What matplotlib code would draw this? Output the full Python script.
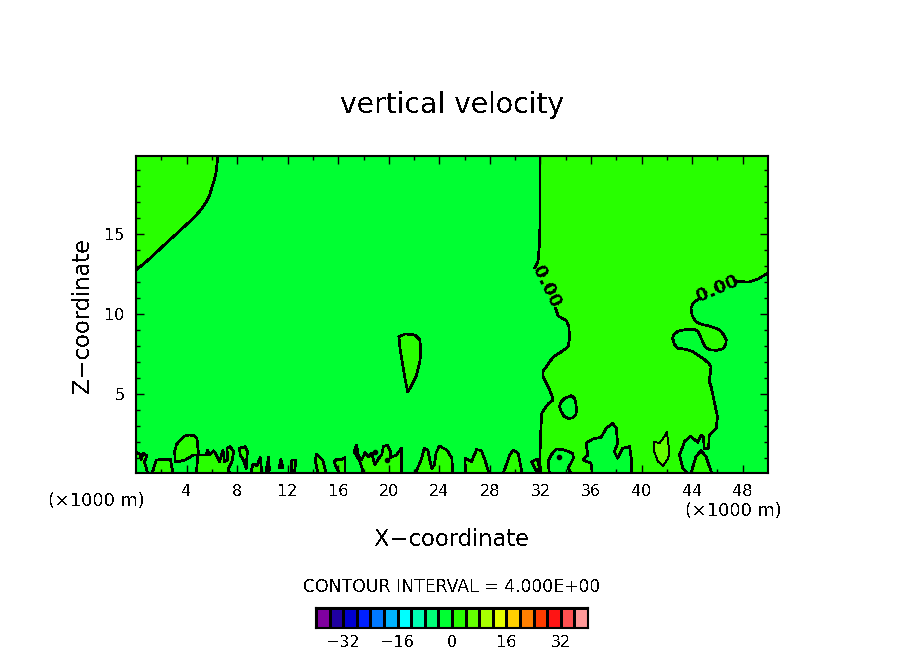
import numpy as np
import matplotlib
matplotlib.use("Agg")
import matplotlib.pyplot as plt
from matplotlib.colors import ListedColormap

plt.rcParams["font.family"] = ["DejaVu Sans"]
plt.rcParams["text.antialiased"] = False

# contour outlines, (x in km, z in km)
corner_top = [(0, 12.75), (0.7, 13.2), (1.4, 13.7), (2.2, 14.3), (3.1, 14.95), (3.85, 15.5), (4.55, 16.0),
              (5.1, 16.5), (5.5, 16.95), (5.8, 17.4), (6.0, 17.9), (6.2, 18.4), (6.33, 18.85), (6.5, 20)]
left_upper = [(31.95, 20), (31.95, 15.3), (31.9, 14.2), (31.8, 13.26), (31.55, 12.9)]
left_lower = [(33.2, 10.35), (33.4, 9.87), (34.05, 9.58), (34.25, 9.2), (34.3, 8.5),
              (34.2, 7.95), (33.6, 7.6), (33.0, 7.3), (32.6, 6.85), (32.2, 6.4), (32.2, 6.07), (32.6, 5.44),
              (32.85, 5.0), (33.0, 4.6), (32.6, 4.36), (32.1, 3.77), (32.0, 2.3), (31.95, 0.85), (32.0, 0)]
right_upper = [(50, 12.6), (49.85, 12.5), (49.2, 12.18), (48.5, 12.0), (47.6, 12.03)]
right_lower = [(44.6, 10.98), (44.1, 10.7), (43.9, 10.36), (44.0, 9.9), (44.3, 9.5), (44.8, 9.33), (45.35, 9.25),
               (45.8, 9.12), (46.15, 9.0), (46.5, 8.7), (46.7, 8.37), (46.65, 8.05), (46.4, 7.8), (45.95, 7.72),
               (45.5, 7.74), (45.15, 7.85), (44.95, 8.05), (44.7, 8.5), (44.45, 8.9), (44.2, 9.03), (43.9, 9.04),
               (43.3, 9.0), (42.85, 8.9), (42.55, 8.72), (42.45, 8.48), (42.6, 8.1), (42.85, 7.85), (43.5, 7.78),
               (44.05, 7.64), (44.5, 7.4), (44.85, 7.22), (45.25, 6.95), (45.5, 6.7), (45.35, 5.76), (45.5, 5.44),
               (45.75, 4.5), (46.0, 3.56), (45.9, 2.83), (45.35, 2.41), (45.3, 1.58), (44.95, 1.58), (44.9, 2.3),
               (44.7, 2.41), (44.45, 1.95), (43.85, 2.35), (43.4, 2.0), (43.0, 1.16),
               (43.25, 0.33), (43.65, 0)]

# negative pockets inside the big positive area
hole_34 = [(33.5, 4.19), (33.65, 4.5), (33.9, 4.7), (34.45, 4.88), (34.7, 4.7), (34.8, 4.4), (34.85, 4.0), (34.8, 3.67),
           (34.5, 3.47), (34.2, 3.46), (33.85, 3.6), (33.65, 3.87), (33.5, 4.19)]
hole_33 = [(32.7, 0), (32.6, 0.74), (32.85, 1.16), (33.25, 1.54), (33.9, 1.47),
           (34.55, 1.27), (34.6, 0.95), (34.2, 0.33), (34.45, 0)]
hole_37 = [(36.1, 0), (36.0, 0.65), (35.35, 0.85), (35.75, 1.16), (35.6, 1.9),
           (36.15, 2.16), (36.8, 2.27), (37.2, 2.83), (37.7, 3.15), (38.0, 2.83),
           (38.1, 1.9), (37.85, 1.37), (38.1, 0.95), (38.5, 1.58), (39.05, 1.68),
           (39.2, 0.85), (39.2, 0)]

# positive pockets in the zero band
lobe_0 = [(0, 1.37), (0.35, 1.16), (0.4, 0.85), (0.56, 1.27), (0.87, 1.1), (0.66, 0.74), (0.93, 0)]
lobe_2 = [(1.27, 0), (1.61, 0.85), (2.72, 0.89), (2.93, 0)]
lobe_4 = [(3.1, 0.74), (3.06, 1.37), (3.2, 1.8), (3.5, 2.1), (3.8, 2.33), (4.16, 2.41), (4.6, 2.38), (4.82, 2.2), (4.95, 1.16),
          (4.56, 1.16), (3.9, 0.85), (3.37, 0.74), (3.1, 0.74)]
lobe_6 = [(4.77, 0), (4.9, 1.16), (5.56, 1.16), (5.66, 1.47), (5.82, 1.16), (6.14, 1.43),
          (6.35, 1.16), (6.61, 0.74), (6.88, 1.47), (7.0, 0.74), (7.25, 0.85), (7.2, 1.58),
          (7.46, 1.68), (7.72, 1.37), (7.59, 0.74), (7.27, 0.26), (7.46, 0)]
lobe_8 = [(8.19, 1.58), (8.64, 1.68), (8.82, 1.37), (8.77, 0.96), (8.72, 0.32), (8.5, 0.85),
          (8.24, 1.16), (8.19, 1.58)]
lobe_9 = [(9.09, 0), (9.25, 0.6), (9.56, 0.49), (9.83, 1.0), (9.96, 0)]
lobe_10 = [(10.3, 0.2), (10.48, 1.0), (10.56, 0.2), (10.3, 0.2)]
lobe_11 = [(11.33, 0.39), (11.46, 0.89), (11.62, 0.39), (11.33, 0.39)]
lobe_12 = [(12.28, 0), (12.33, 0.85), (12.64, 0.85), (12.54, 0)]
lobe_14 = [(14.4, 0), (14.17, 0.85), (14.3, 1.22), (14.77, 0.85), (15.04, 0)]
lobe_16 = [(16.1, 0), (15.83, 0.43), (15.67, 0.74), (15.88, 0.89), (16.28, 0.89), (16.54, 1.0), (16.54, 0)]
lobe_19 = [(18.0, 0), (17.72, 0.74), (17.25, 1.37), (17.46, 1.79), (17.57, 1.16), (17.85, 0.85),
           (18.12, 1.3), (18.38, 1.05), (18.65, 1.26), (18.9, 0.53), (19.18, 0.94), (19.44, 1.16),
           (19.57, 1.68), (19.88, 1.79), (20.15, 1.37), (20.1, 1.0), (20.6, 1.16), (21.0, 1.58), (21.0, 0)]
lobe_24 = [(22.1, 0), (22.6, 0.94), (22.8, 1.58), (23.1, 1.47), (23.2, 1.0), (23.4, 0.3),
           (23.6, 0.55), (23.75, 1.3), (24.0, 1.72), (24.6, 1.47), (25.0, 0.94), (25.04, 0)]
lobe_27 = [(26.07, 0), (26.02, 0.97), (26.55, 0.74), (26.94, 1.5), (27.34, 1.43), (27.6, 0.85), (27.94, 0)]
lobe_30 = [(29.05, 0), (29.57, 1.16), (29.84, 1.47), (30.23, 1.27), (30.55, 0)]
lobe_31 = [(31.75, 0), (31.3, 0.75), (31.75, 0.9), (31.9, 0.4), (31.75, 0)]
lobe_45 = [(43.9, 0), (44.3, 1.05), (44.7, 1.43), (45.1, 1.05), (45.55, 0)]
lobe_22 = [(20.8, 8.56), (20.9, 7.74), (21.15, 6.6), (21.3, 5.86), (21.5, 5.11), (21.83, 5.55), (22.2, 6.18),
           (22.46, 7.0), (22.53, 7.74), (22.46, 8.37), (22.07, 8.68), (21.3, 8.75), (20.8, 8.56)]
small_blobs_x = [18.9, 19.88, 33.5]
small_blobs_z = [1.37, 0.85, 1.03]

# the 4 to 8 patch, has the thin outline
patch_42 = [(41.0, 2.0), (41.4, 1.89), (41.7, 2.2), (42.0, 2.58), (42.2, 1.37), (42.1, 0.95),
            (41.7, 0.49), (41.3, 0.74), (41.0, 1.37), (41.0, 2.0)]

bar_colors = ["#8000a0", "#2000a0", "#0000d0", "#0020ff", "#0078ff", "#00b4ff", "#00ffff",
              "#00ffb4", "#00ff78", "#00ff32", "#28ff00", "#64ff00", "#a8ff00", "#e6ff00",
              "#ffd000", "#ff8000", "#ff3c00", "#ff1414", "#ff5050", "#ff9898"]
bar_levels = np.arange(-40, 41, 4)
bar_ticks = [-32, -16, 0, 16, 32]
x_major = [4, 8, 12, 16, 20, 24, 28, 32, 36, 40, 44, 48]
x_minor = [2, 6, 10, 14, 18, 22, 26, 30, 34, 38, 42, 46]
z_major = [5, 10, 15]
z_minor = [1, 2, 3, 4, 6, 7, 8, 9, 11, 12, 13, 14, 16, 17, 18, 19]

ZERO = bar_colors[9]
POS = bar_colors[10]
POS2 = bar_colors[11]


def fill(ax, pts, color):
    xs, zs = zip(*pts)
    ax.fill(xs, zs, facecolor=color, edgecolor="none", antialiased=False, zorder=1)


def line(ax, pts, lw=1.2):
    xs, zs = zip(*pts)
    ax.plot(xs, zs, color="black", lw=lw, antialiased=False, zorder=2)


fig = plt.figure(figsize=(9.04, 6.54), dpi=100)
ax = fig.add_axes([136 / 904, 181 / 654, 632 / 904, 317 / 654])
ax.set_facecolor(ZERO)
ax.set_xlim(0, 50)
ax.set_ylim(0.03, 19.9)

fill(ax, [(0, 20)] + corner_top, POS)
main_area = left_upper + left_lower + right_lower[::-1] + right_upper[::-1] + [(50, 20)]
fill(ax, main_area, POS)
for hole in [hole_34, hole_33, hole_37]:
    fill(ax, hole, ZERO)
lobes = [lobe_0, lobe_2, lobe_4, lobe_6, lobe_8, lobe_9, lobe_10, lobe_11, lobe_12, lobe_14,
         lobe_16, lobe_19, lobe_24, lobe_27, lobe_30, lobe_31, lobe_45, lobe_22]
for lobe in lobes:
    fill(ax, lobe, POS)
fill(ax, patch_42, POS2)

for curve in [corner_top, left_upper, left_lower, right_upper, right_lower, hole_34, hole_33, hole_37] + lobes:
    line(ax, curve)
line(ax, patch_42, lw=0.6)
ax.plot(small_blobs_x, small_blobs_z, "o", color="black", ms=3, zorder=2)

ax.text(32.5, 11.7, "0.00", rotation=-64, ha="center", va="center", fontsize=13, weight="bold", rotation_mode="anchor")
ax.text(46.0, 11.57, "0.00", rotation=23, ha="center", va="center", fontsize=13, weight="bold", rotation_mode="anchor")

ax.set_xticks(x_major)
ax.set_xticks(x_minor, minor=True)
ax.set_yticks(z_major)
ax.set_yticks(z_minor, minor=True)
ax.tick_params(which="major", direction="in", top=True, right=True, length=6, width=1, labelsize=11.5, pad=8)
ax.tick_params(which="minor", direction="in", top=True, right=True, length=3, width=1)
for side in ax.spines.values():
    side.set_linewidth(1.5)
    side.set_zorder(5)

fig.text(452 / 904, 1 - 105 / 654, "vertical velocity", fontsize=20.3, ha="center", va="center")
fig.text(83 / 904, 1 - 315 / 654, "Z\u2212coordinate", fontsize=16.3, rotation=90, ha="center", va="center")
fig.text(452 / 904, 1 - 540 / 654, "X\u2212coordinate", fontsize=16.3, ha="center", va="center")
fig.text(96 / 904, 1 - 501 / 654, "(\u00d71000 m)", fontsize=12.8, ha="center", va="center")
fig.text(733 / 904, 1 - 511 / 654, "(\u00d71000 m)", fontsize=12.8, ha="center", va="center")
fig.text(452 / 904, 1 - 587 / 654, "CONTOUR INTERVAL = 4.000E+00", fontsize=12.4, ha="center", va="center")

cax = fig.add_axes([316 / 904, 26 / 654, 272 / 904, 20 / 654])
cax.pcolormesh(bar_levels, [0, 1], np.array([bar_levels[:-1] + 2]),
               cmap=ListedColormap(bar_colors), vmin=-40, vmax=40,
               edgecolors="black", linewidth=1, antialiased=False)
cax.set_yticks([])
cax.set_xticks(bar_ticks)
cax.set_xticklabels(["\u221232", "\u221216", "0", "16", "32"])
cax.tick_params(axis="x", length=0, labelsize=11.5, pad=5)
for side in cax.spines.values():
    side.set_linewidth(1.5)

fig.savefig("out.png", dpi=100)
